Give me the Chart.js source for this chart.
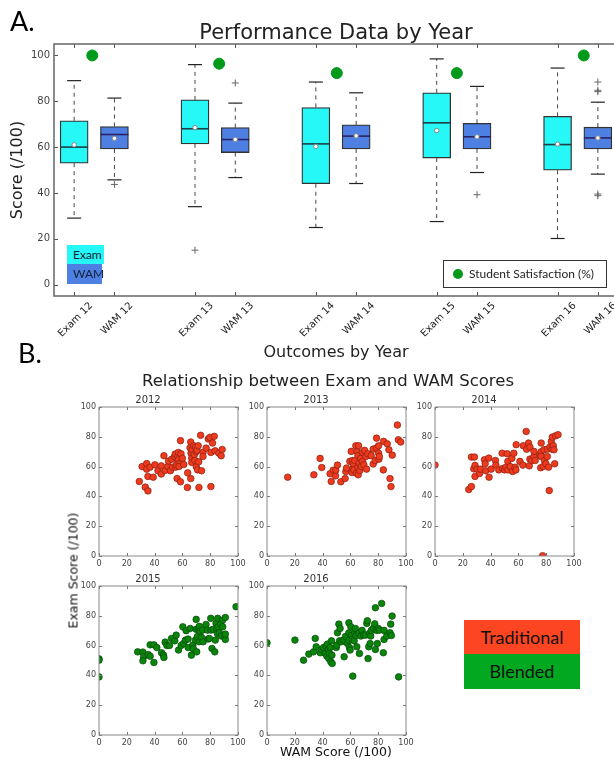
<!DOCTYPE html>
<html>
<head>
<meta charset="utf-8">
<title>Performance Data by Year</title>
<script src="https://cdn.jsdelivr.net/npm/chart.js"></script>
<style>
    body { margin: 0; background: #fff; font-family: "DejaVu Sans", sans-serif; }
    #page { position: relative; width: 614px; height: 760px; overflow: hidden; background: #fff; }
    canvas { position: absolute; }
    .txt { position: absolute; white-space: nowrap; color: #222; z-index: 2; }
    .big { font-family: Lato, sans-serif; font-size: 27px; color: #000; }
    .patch { position: absolute; font-family: Lato, sans-serif; font-size: 12px; color: #123; box-sizing: border-box; padding-left: 6px; }
</style>
</head>
<body>
<div id="page">
    <canvas id="boxChart" width="640" height="372" style="left:0;top:0"></canvas>
    <div class="txt big" style="left:10px;top:4px">A.</div>
    <div class="txt" style="left:136px;width:400px;top:20px;line-height:24px;text-align:center;font-size:21px">Performance Data by Year</div>
    <div class="patch" style="left:67px;top:245px;width:37px;height:19px;line-height:19px;background:#26f7f7">Exam</div>
    <div class="patch" style="left:67px;top:264px;width:35px;height:20px;line-height:20px;background:#4e7fe2">WAM</div>
    <div class="txt" style="left:443px;top:260px;width:164px;height:28px;border:1px solid #333;box-sizing:border-box;font-family:Lato,sans-serif;font-size:12px;line-height:26px">
        <span style="position:absolute;left:9px;top:8px;width:10px;height:10px;border-radius:50%;background:#009a1a"></span>
        <span style="position:absolute;left:25px;top:0">Student Satisfaction (%)</span>
    </div>

    <div class="txt big" style="left:18px;top:336px">B.</div>
    <div class="txt" style="left:128px;width:400px;top:371px;line-height:20px;text-align:center;font-size:16.5px">Relationship between Exam and WAM Scores</div>

    <canvas id="s2012" width="183" height="173" style="left:67px;top:399px"></canvas>
    <canvas id="s2013" width="183" height="173" style="left:235px;top:399px"></canvas>
    <canvas id="s2014" width="183" height="173" style="left:403px;top:399px"></canvas>
    <canvas id="s2015" width="183" height="173" style="left:67px;top:578px"></canvas>
    <canvas id="s2016" width="183" height="173" style="left:235px;top:578px"></canvas>

    <div class="txt" style="left:118px;width:60px;top:394px;text-align:center;font-size:10px;color:#333">2012</div>
    <div class="txt" style="left:286px;width:60px;top:394px;text-align:center;font-size:10px;color:#333">2013</div>
    <div class="txt" style="left:454px;width:60px;top:394px;text-align:center;font-size:10px;color:#333">2014</div>
    <div class="txt" style="left:118px;width:60px;top:573px;text-align:center;font-size:10px;color:#333">2015</div>
    <div class="txt" style="left:286px;width:60px;top:573px;text-align:center;font-size:10px;color:#333">2016</div>

    <div class="txt" style="left:13px;width:120px;top:563px;text-align:center;font-size:12.5px;color:#111;transform:rotate(-90deg)">Exam Score (/100)</div>
    <div class="txt" style="left:276px;width:120px;top:744px;text-align:center;font-size:12.5px;color:#111">WAM Score (/100)</div>

    <div class="txt" style="left:464px;top:620px;width:116px;height:34px;line-height:34px;text-align:center;background:#fe4521;font-family:Lato,sans-serif;font-size:18px;color:#111">Traditional</div>
    <div class="txt" style="left:464px;top:654px;width:116px;height:35px;line-height:35px;text-align:center;background:#03a821;font-family:Lato,sans-serif;font-size:18px;color:#111">Blended</div>
</div>

<script>
    // ---- A. box plot data ----
    const tickPos = [1, 2, 4, 5, 7, 8, 10, 11, 13, 14];
    const tickLabels = ['Exam 12', 'WAM 12', 'Exam 13', 'WAM 13', 'Exam 14', 'WAM 14', 'Exam 15', 'WAM 15', 'Exam 16', 'WAM 16'];
    const yTicks = [0, 20, 40, 60, 80, 100];

    const examPos = [1, 4, 7, 10, 13];
    const examQ1 = [53, 61.4, 44, 55.2, 49.9];
    const examQ3 = [71.5, 80.6, 77.3, 83.7, 73.4];
    const examMed = [60, 68, 61.4, 70.6, 61.1];
    const examMean = [61, 68.5, 60.3, 67.2, 61.3];
    const examLo = [29, 34, 24.9, 27.5, 20.1];
    const examHi = [89, 96, 88.4, 98.5, 94.5];
    const examOut = [[], [15], [], [], []];

    const wamPos = [2, 5, 8, 11, 14];
    const wamQ1 = [59.2, 57.6, 59.2, 59.2, 59.2];
    const wamQ3 = [69, 68.5, 69.7, 70.4, 68.7];
    const wamMed = [65.5, 63.3, 64.8, 64.5, 64];
    const wamMean = [63.8, 63.3, 64.9, 64.5, 64];
    const wamLo = [45.7, 46.7, 44.1, 48.9, 48.2];
    const wamHi = [81.4, 79.2, 83.7, 86.5, 79.6];
    const wamOut = [[43.7], [88], [], [39.2], [88.4, 84.8, 84.2, 39.5, 38.8]];

    const satX = [1.45, 4.6, 7.52, 10.5, 13.65];
    const satisfaction = [100, 96.4, 92.3, 92.3, 100];

    // ---- B. scatter data: [WAM, Exam] ----
    const pts2012 = [[29,50],[31,60],[34.3,62],[34.3,58.3],[33.3,46.2],[35.2,43.7],[35.2,53.4],[36.7,59.6],[39,52.9],[40.2,61.2],
        [42.4,57.2],[44.8,60.5],[44.8,55],[46.7,67.3],[47.6,57.4],[49.5,60.1],[50,63.7],[51.4,57.2],[52.4,65],[52.9,59.6],
        [54.3,66.6],[54.8,68.4],[55.2,59.6],[55.7,61.2],[56.2,52],[56.7,66.8],[57.1,69.5],[57.1,64.6],[57.6,61.9],[57.6,60.1],
        [58.6,77.4],[58.6,49.8],[59,68.6],[60,65.5],[61,61.4],[63.8,55.8],[63.6,46],[66,52],[65.5,72.6],[66,76.5],
        [66.2,69],[66.7,65.7],[66.7,62.8],[67,71.3],[68.1,74],[68.6,68],[69,64.1],[69.5,73.1],[70,59.9],[70,70],
        [70.5,71.1],[71,57.8],[71.4,74],[71.7,63.2],[71.9,46],[73.1,81],[73.8,57.2],[74.8,69.5],[74.8,66.8],[77.1,72.4],
        [78.6,78.5],[79.8,79.6],[80.5,46.6],[80.5,69.5],[81.7,75.8],[82.9,80.3],[83.6,70.6],[86.2,69],[87.9,67.3],[88.6,71.5]];
    const pts2013 = [[14.9,52.9],[33.7,54.5],[38.2,65.5],[39.4,59.4],[45.4,55.2],[46.2,50],[47.6,57.6],[49.3,53.8],[49.5,57.6],[50.7,61],
        [53.1,49.8],[56.2,52],[56.7,56.7],[57.2,59],[59.6,63.5],[60.6,70.2],[61.1,56],[61.5,64.1],[62,59],[62.3,61.9],
        [62.5,57.8],[63.2,64.1],[63.9,74],[64.4,55.6],[64.9,70],[65.4,67.3],[65.4,59.6],[65.6,54.5],[65.9,74],[66.3,62.3],
        [66.8,57.4],[67.5,65.5],[67.8,60.1],[68.8,69.5],[68.8,63.5],[69.7,61.2],[70.2,70.9],[71.2,66.8],[71.6,58.3],[72.6,68.6],
        [75,67.3],[76.4,71.7],[76.4,61.7],[77.9,64.1],[78.8,79.1],[78.8,72.4],[80.3,74],[80.3,69],[80.5,65],[80.8,66.8],
        [83.7,57.8],[83.9,76.9],[86.5,75.3],[87.7,71.3],[88.5,52],[89.2,46.6],[90.1,67.7],[93.8,87.9],[94.5,78],[96.2,76.5]];
    const pts2014 = [[0,61],[24.3,44.6],[26.2,46.6],[26.2,66.4],[28.4,66.4],[27.9,58.5],[28.8,60.8],[28.8,53.4],[30.3,58.3],[32,55.4],
        [32.7,58.3],[35.6,64.6],[36.1,61.9],[36.5,57.2],[38.7,65.7],[38.9,52.9],[40.4,58.3],[43.5,64.1],[43.8,61],[45.9,57.8],
        [48.3,69],[48.6,58.7],[50,57.8],[51,59.6],[51.9,68.6],[52.4,63.5],[52.4,57.8],[54.1,60.1],[55.3,65.5],[55.8,56.7],
        [56.7,69],[57.7,59.6],[58.4,74.7],[58.2,57.8],[61.1,63.5],[63.2,61],[63.5,74],[65.6,83.6],[65.9,71.7],[67.3,75.8],
        [67.8,60.5],[68.3,65],[68.3,73.1],[69.7,64.1],[71.2,66.8],[71.2,70.2],[72.1,64.1],[75.5,67.9],[76,59.2],[76.4,75.8],
        [76.4,70],[76.4,66.8],[77.4,0.2],[77.9,60.1],[78.4,71.3],[78.8,64.1],[79.8,61.9],[80.8,66.8],[80.8,71.7],[81.7,59.6],
        [82.2,43.9],[82.7,73.1],[83.7,76.9],[84.1,71.7],[84.4,79.8],[85.1,74],[85.6,71.3],[86.1,61.9],[86.8,80.7],[88.5,81.4]];
    const pts2015 = [[0,51.1],[0,50.2],[0,39],[27.8,55.8],[31.6,55.6],[32.1,52.5],[31.6,49.8],[35.4,54],[36.8,52.9],[36.8,60.5],
        [39.5,60.5],[39.5,48.7],[41.6,58.7],[45,55.2],[46.4,53.6],[46.7,52],[47.6,62.3],[48.8,60.1],[50.7,60.1],[52.2,64.8],
        [54.5,63.2],[55.5,67],[57.2,57],[59.1,60.1],[60.3,72.6],[60.8,61.4],[62.2,63.7],[62.7,70],[64.1,64.4],[64.1,58.7],
        [65.6,71.5],[66.5,53.6],[67.5,60.3],[67.9,57.8],[69.4,63.7],[69.9,77.6],[69.9,70.9],[70.3,55.8],[70.8,66.1],[71.3,71.3],
        [72,62.6],[72.2,72.9],[72.7,69.5],[73.7,65.5],[74.6,70.4],[74.9,62.6],[77,74.2],[78,70.4],[78.5,64.4],[79.4,64.8],
        [80.4,78.3],[80.6,70.4],[81.3,58.1],[82.3,70.9],[83.3,55.8],[83.7,63.7],[84.2,74.9],[84.7,70.9],[85.2,68.2],[85.4,78.3],
        [85.6,72.6],[86.6,68.6],[87.6,74.4],[88,66.4],[89,77.1],[89,72.6],[90.4,65.9],[90.9,78.9],[90.9,64.1],[90.9,67.7],[98.6,86.1]];
    const pts2016 = [[0,61.9],[20.1,63.7],[26.3,50.2],[30.1,54.3],[33.5,55.8],[34.7,64.8],[35.4,59.2],[38.3,55.2],[39.2,57.4],[40.7,58.7],
        [41.9,54.7],[42.6,59.6],[43.1,52.9],[43.5,61],[44.3,57.4],[44.5,51.3],[45,54.7],[45.5,58.7],[45.9,49.1],[46.4,63.2],
        [46.7,53.6],[46.9,48],[49.8,58.7],[50.2,60.3],[50.7,68.6],[51.7,74.4],[52.2,63.2],[52.6,71.5],[53.6,62.6],[55,63.7],
        [55.5,52.5],[56.5,66.1],[57.9,61.4],[58.9,75.3],[58.9,68.6],[58.9,63.7],[59.3,58.7],[59.8,57],[60.3,72.6],[60.8,66.8],
        [61.2,64.1],[61.7,39.5],[62.7,63.2],[63.2,68.6],[63.6,71.5],[64.1,66.8],[64.6,59.2],[66,68.2],[66.5,54.7],[67.5,66.4],
        [68.4,70.2],[69.4,67.3],[70.8,67],[71.8,74.9],[72.2,76.7],[72.7,51.3],[73.2,59.2],[73.7,68.2],[74.2,61.4],[74.6,66.4],
        [75.1,70.2],[76.6,71.7],[77.5,74.6],[78,85.4],[78,57.4],[78.9,70.2],[79.4,61.4],[80.1,71.5],[80.9,70.4],[82.5,88.3],
        [83.7,55.2],[84.2,64.1],[84.2,70.2],[86.1,66.4],[88.5,68.6],[89,74.4],[89.5,66.8],[90,79.8],[94.7,39]];

    const scatterTicks = [0, 20, 40, 60, 80, 100];

    // frame with inward ticks on all four sides, like the old matplotlib look
    const framePlugin = {
        id: 'frame',
        afterDraw(chart, args, opts) {
            const { ctx, chartArea: a, scales } = chart;
            ctx.save();
            ctx.beginPath();
            scales.x.ticks.forEach(t => {
                const px = Math.round(scales.x.getPixelForValue(t.value)) + 0.5;
                ctx.moveTo(px, a.bottom); ctx.lineTo(px, a.bottom - opts.tick);
                ctx.moveTo(px, a.top); ctx.lineTo(px, a.top + opts.tick);
            });
            scales.y.ticks.forEach(t => {
                const py = Math.round(scales.y.getPixelForValue(t.value)) + 0.5;
                ctx.moveTo(a.left, py); ctx.lineTo(a.left + opts.tick, py);
                ctx.moveTo(a.right, py); ctx.lineTo(a.right - opts.tick, py);
            });
            ctx.lineWidth = 1;
            ctx.strokeStyle = opts.tickColor;
            ctx.stroke();
            ctx.lineWidth = opts.width;
            ctx.strokeStyle = opts.color;
            ctx.strokeRect(a.left, a.top, a.width, a.height);
            ctx.restore();
        }
    };

    function boxDatasets(pos, q1, q3, med, mean, lo, hi, out, fill, medColor, label) {
        const whisk = [];
        pos.forEach((p, i) => {
            whisk.push({ x: p, y: q3[i] }, { x: p, y: hi[i] }, { x: p, y: null },
                       { x: p, y: q1[i] }, { x: p, y: lo[i] }, { x: p, y: null });
        });
        const caps = [];
        pos.forEach((p, i) => { caps.push({ x: p, y: lo[i] }, { x: p, y: hi[i] }); });
        const outliers = [];
        pos.forEach((p, i) => out[i].forEach(v => outliers.push({ x: p, y: v })));
        return [
            {
                type: 'bar', label: label,
                data: pos.map((p, i) => ({ x: p, y: [q1[i], q3[i]] })),
                backgroundColor: fill, borderColor: '#333', borderWidth: 1.3,
                borderSkipped: false, barThickness: 28, grouped: false, order: 4
            },
            {
                type: 'line', data: whisk, borderColor: '#444', borderWidth: 1,
                borderDash: [4, 4], pointRadius: 0, spanGaps: false, fill: false, order: 5
            },
            {
                type: 'line', showLine: false, data: caps, pointStyle: 'line',
                pointRadius: 7, borderColor: '#222', borderWidth: 1.2, order: 3
            },
            {
                type: 'line', showLine: false, data: pos.map((p, i) => ({ x: p, y: med[i] })),
                pointStyle: 'line', pointRadius: 14, borderColor: medColor, borderWidth: 1.6, order: 2
            },
            {
                type: 'line', showLine: false, data: pos.map((p, i) => ({ x: p, y: mean[i] })),
                pointStyle: 'circle', pointRadius: 2.2, backgroundColor: '#fff',
                borderColor: '#888', borderWidth: 1, order: 1
            },
            {
                type: 'line', showLine: false, data: outliers, pointStyle: 'cross',
                pointRadius: 3.5, borderColor: '#666', borderWidth: 1, order: 1
            }
        ];
    }

    new Chart(document.getElementById('boxChart'), {
        type: 'bar',
        data: {
            datasets: [
                ...boxDatasets(examPos, examQ1, examQ3, examMed, examMean, examLo, examHi, examOut, '#26f7f7', '#1d3f48', 'Exam'),
                ...boxDatasets(wamPos, wamQ1, wamQ3, wamMed, wamMean, wamLo, wamHi, wamOut, '#4e7fe2', '#2a2266', 'WAM'),
                {
                    type: 'line', showLine: false, label: 'Student Satisfaction (%)',
                    data: satX.map((x, i) => ({ x: x, y: satisfaction[i] })),
                    pointStyle: 'circle', pointRadius: 5.5,
                    backgroundColor: '#009a1a', borderColor: '#009a1a', order: 0
                }
            ]
        },
        options: {
            responsive: false,
            animation: false,
            events: [],
            layout: { padding: { top: 44, right: 22, left: 0, bottom: 0 } },
            plugins: {
                legend: { display: false },
                tooltip: { enabled: false },
                frame: { color: '#666', width: 1.5, tick: 4, tickColor: '#555' }
            },
            scales: {
                x: {
                    type: 'linear', min: 0.5, max: 14.5, offset: false,
                    grid: { display: false, drawTicks: false },
                    border: { display: false },
                    afterBuildTicks: s => { s.ticks = tickPos.map(v => ({ value: v })); },
                    afterFit: s => { s.height = 76; },
                    ticks: {
                        autoSkip: false, minRotation: 45, maxRotation: 45,
                        labelOffset: 17, padding: 4,
                        font: { family: 'DejaVu Sans', size: 10 }, color: '#222',
                        callback: v => tickLabels[tickPos.indexOf(v)]
                    },
                    title: {
                        display: true, text: 'Outcomes by Year', color: '#222',
                        font: { family: 'DejaVu Sans', size: 16 }, padding: { top: 0, bottom: 10 }
                    }
                },
                y: {
                    min: -5, max: 105,
                    grid: { display: false, drawTicks: false },
                    border: { display: false },
                    afterBuildTicks: s => { s.ticks = yTicks.map(v => ({ value: v })); },
                    afterFit: s => { s.width = 54; },
                    ticks: { padding: 4, font: { family: 'DejaVu Sans', size: 10 }, color: '#444' },
                    title: {
                        display: true, text: 'Score (/100)', color: '#222',
                        font: { family: 'DejaVu Sans', size: 16 }, padding: { top: 8, bottom: 0 }
                    }
                }
            }
        },
        plugins: [framePlugin]
    });

    function scatterPanel(id, pts, fill, edge) {
        new Chart(document.getElementById(id), {
            type: 'scatter',
            data: {
                datasets: [{
                    data: pts.map(p => ({ x: p[0], y: p[1] })),
                    backgroundColor: fill, borderColor: edge, borderWidth: 0.7,
                    pointRadius: 3.3, clip: 0
                }]
            },
            options: {
                responsive: false,
                animation: false,
                events: [],
                layout: { padding: { top: 8, right: 12, left: 0, bottom: 0 } },
                plugins: {
                    legend: { display: false },
                    tooltip: { enabled: false },
                    frame: { color: '#888', width: 1, tick: 3, tickColor: '#777' }
                },
                scales: {
                    x: {
                        type: 'linear', min: 0, max: 100,
                        grid: { display: false, drawTicks: false },
                        border: { display: false },
                        afterBuildTicks: s => { s.ticks = scatterTicks.map(v => ({ value: v })); },
                        afterFit: s => { s.height = 16; },
                        ticks: { maxRotation: 0, padding: 3, font: { family: 'DejaVu Sans', size: 8 }, color: '#444' }
                    },
                    y: {
                        min: 0, max: 100,
                        grid: { display: false, drawTicks: false },
                        border: { display: false },
                        afterBuildTicks: s => { s.ticks = scatterTicks.map(v => ({ value: v })); },
                        afterFit: s => { s.width = 32; },
                        ticks: { padding: 3, font: { family: 'DejaVu Sans', size: 8 }, color: '#444' }
                    }
                }
            },
            plugins: [framePlugin]
        });
    }

    scatterPanel('s2012', pts2012, '#ee3a1f', '#8a2010');
    scatterPanel('s2013', pts2013, '#ee3a1f', '#8a2010');
    scatterPanel('s2014', pts2014, '#ee3a1f', '#8a2010');
    scatterPanel('s2015', pts2015, '#0a850a', '#05480a');
    scatterPanel('s2016', pts2016, '#0a850a', '#05480a');
</script>
</body>
</html>
